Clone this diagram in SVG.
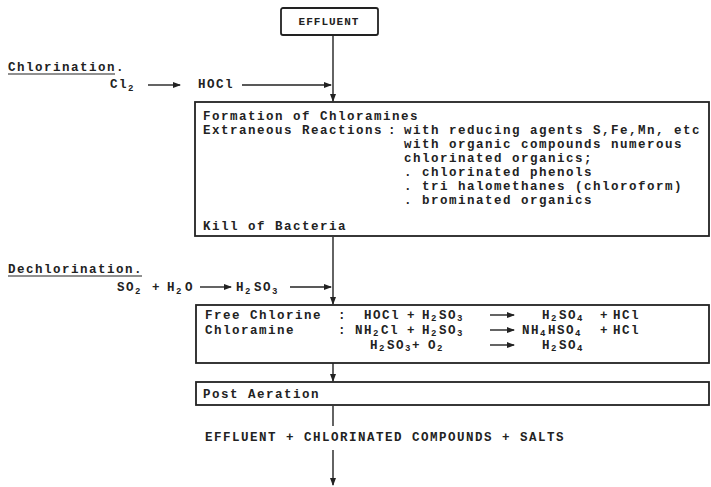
<svg xmlns="http://www.w3.org/2000/svg" width="711" height="487" viewBox="0 0 711 487">
<style>
text{font-family:"Liberation Mono","Courier New",monospace;font-size:12.5px;font-weight:bold;fill:#222;letter-spacing:1.5px}
.sm{font-size:11px;letter-spacing:1px}
.sb{font-size:9px;letter-spacing:0}
.box{fill:#fff;stroke:#222;stroke-width:1.8}
.ln{stroke:#222;stroke-width:1.4;fill:none}
.ul{stroke:#222;stroke-width:1.2}
</style>
<defs>
<marker id="ah" markerWidth="8" markerHeight="6" refX="7" refY="3" orient="auto" markerUnits="userSpaceOnUse"><path d="M0,0 L8,3 L0,6 Z" fill="#222"/></marker>
</defs>
<rect width="711" height="487" fill="#fff"/>

<g id="effluent">
<rect class="box" x="281" y="8" width="97" height="27" rx="2"/>
<text class="sm" x="329" y="25" text-anchor="middle">EFFLUENT</text>
</g>

<g id="chlorination">
<text x="8" y="71">Chlorination.</text>
<line class="ul" x1="8" y1="74" x2="115" y2="74"/>
<text x="110" y="88">Cl</text><text class="sb" x="128" y="91">2</text>
<text x="198" y="88">HOCl</text>
</g>

<g id="chlorination-box">
<rect class="box" x="195" y="102" width="514" height="134"/>
<text x="203" y="120">Formation of Chloramines</text>
<text x="203" y="134">Extraneous Reactions</text>
<text x="388" y="134">:</text>
<text x="404" y="134">with reducing agents S,Fe,Mn, etc</text>
<text x="404" y="148">with organic compounds numerous</text>
<text x="404" y="162">chlorinated organics;</text>
<text x="404" y="176">. chlorinated phenols</text>
<text x="404" y="190">. tri halomethanes (chloroform)</text>
<text x="404" y="204">. brominated organics</text>
<text x="203" y="230">Kill of Bacteria</text>
</g>

<g id="dechlorination">
<text x="8" y="273">Dechlorination.</text>
<line class="ul" x1="8" y1="276" x2="142" y2="276"/>
<text x="117" y="291">SO</text><text class="sb" x="135" y="294">2</text>
<text x="152" y="291">+</text>
<text x="167" y="291">H</text><text class="sb" x="176" y="294">2</text><text x="185" y="291">O</text>
<text x="236" y="291">H</text><text class="sb" x="245" y="294">2</text><text x="254" y="291">SO</text><text class="sb" x="272" y="294">3</text>
</g>

<g id="dechlorination-box">
<rect class="box" x="196" y="305" width="513" height="58"/>
<text x="205" y="319">Free Chlorine</text>
<text x="338" y="319">:</text>
<text x="364" y="319">HOCl</text>
<text x="407" y="319">+</text>
<text x="422" y="319">H</text><text class="sb" x="431" y="321">2</text><text x="439" y="319">SO</text><text class="sb" x="457" y="321">3</text>
<text x="542" y="319">H</text><text class="sb" x="551" y="321">2</text><text x="559" y="319">SO</text><text class="sb" x="577" y="321">4</text>
<text x="600" y="319">+</text>
<text x="613" y="319">HCl</text>

<text x="205" y="334">Chloramine</text>
<text x="338" y="334">:</text>
<text x="355" y="334">NH</text><text class="sb" x="373" y="336">2</text><text x="381" y="334">Cl</text>
<text x="407" y="334">+</text>
<text x="422" y="334">H</text><text class="sb" x="431" y="336">2</text><text x="439" y="334">SO</text><text class="sb" x="457" y="336">3</text>
<text x="522" y="334">NH</text><text class="sb" x="540" y="336">4</text><text x="548" y="334">HSO</text><text class="sb" x="575" y="336">4</text>
<text x="600" y="334">+</text>
<text x="613" y="334">HCl</text>

<text x="370" y="349">H</text><text class="sb" x="379" y="351">2</text><text x="387" y="349">SO</text><text class="sb" x="405" y="351">3</text><text x="412" y="349">+</text>
<text x="428" y="349">O</text><text class="sb" x="437" y="351">2</text>
<text x="542" y="349">H</text><text class="sb" x="551" y="351">2</text><text x="559" y="349">SO</text><text class="sb" x="577" y="351">4</text>
</g>

<g id="post-aeration">
<rect class="box" x="196" y="382" width="513" height="23"/>
<text x="203" y="398">Post Aeration</text>
</g>

<g id="output">
<text x="205" y="441">EFFLUENT + CHLORINATED COMPOUNDS + SALTS</text>
</g>

<g id="connectors">
<path class="ln" d="M333,35 V101" marker-end="url(#ah)"/>
<path class="ln" d="M148,85 H180" marker-end="url(#ah)"/>
<path class="ln" d="M242,85 H331" marker-end="url(#ah)"/>
<path class="ln" d="M333,237 V304" marker-end="url(#ah)"/>
<path class="ln" d="M200,287 H231" marker-end="url(#ah)"/>
<path class="ln" d="M290,287 H331" marker-end="url(#ah)"/>
<path class="ln" d="M333,363 V381" marker-end="url(#ah)"/>
<path class="ln" d="M333,406 V426"/>
<path class="ln" d="M333,450 V485" marker-end="url(#ah)"/>
<path class="ln" d="M490,315 H514" marker-end="url(#ah)"/>
<path class="ln" d="M490,330 H514" marker-end="url(#ah)"/>
<path class="ln" d="M490,345 H514" marker-end="url(#ah)"/>
</g>
</svg>
